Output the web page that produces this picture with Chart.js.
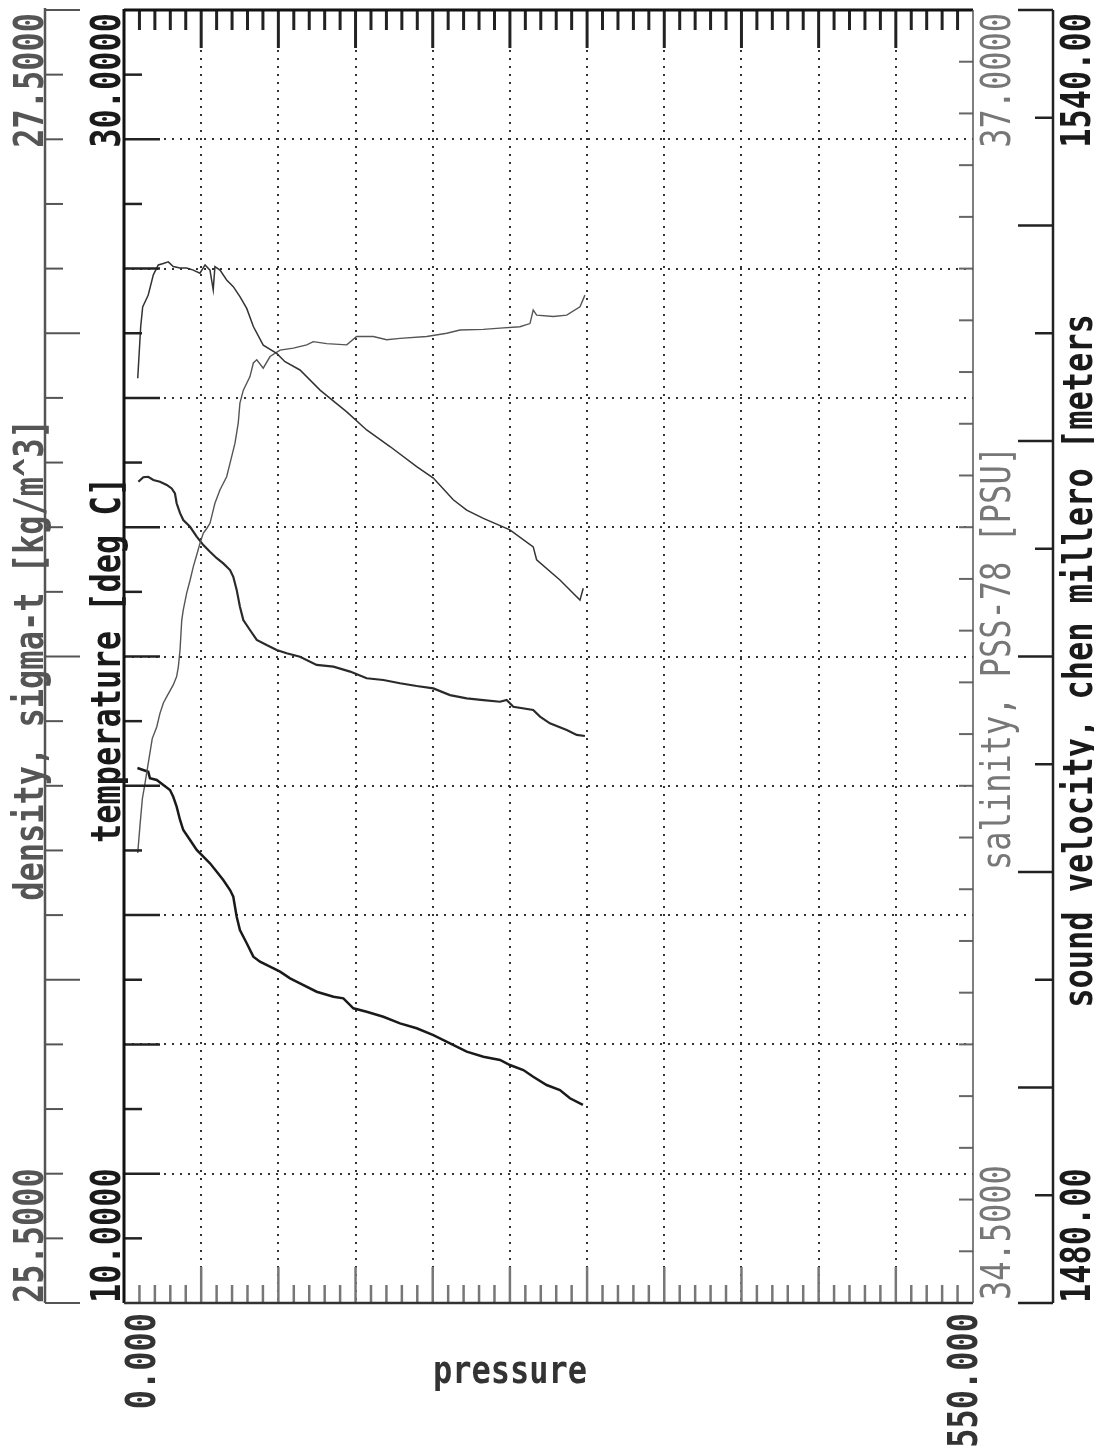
<!DOCTYPE html>
<html>
<head>
<meta charset="utf-8">
<script src="https://cdn.jsdelivr.net/npm/chart.js@4.4.1/dist/chart.umd.min.js"></script>
<style>
  html, body { margin: 0; padding: 0; background: #fff; }
  canvas { display: block; }
</style>
</head>
<body>
<canvas id="grafico" width="1094" height="1450"></canvas>
<script>
// perfil CTD - eixo de pressao na horizontal, 4 variaveis na vertical

// salinidade (PSS-78)
const salPress = [8.9, 10.8, 12.1, 15.7, 19.0, 22.2, 25.5, 28.7, 31.9, 36.3, 40.6, 44.9, 49.2, 52.5, 55.7, 57.8, 58.9, 62.2, 66.5, 70.8, 75.1, 79.5, 83.8, 90.2, 98.9, 104.3, 114.0, 127.0, 144.3, 157.2, 172.3, 189.6, 200.4, 213.3, 222.0, 232.8, 250.0, 265.1, 267.3, 282.4, 295.4, 297.5];
const salValues = [36.288, 36.387, 36.426, 36.449, 36.488, 36.507, 36.510, 36.513, 36.504, 36.501, 36.501, 36.497, 36.491, 36.507, 36.497, 36.459, 36.504, 36.497, 36.478, 36.465, 36.446, 36.423, 36.388, 36.352, 36.336, 36.320, 36.304, 36.265, 36.223, 36.188, 36.156, 36.117, 36.095, 36.053, 36.033, 36.017, 35.995, 35.962, 35.937, 35.898, 35.859, 35.882];

// densidade sigma-t
const densPress = [8.9, 10.4, 11.9, 13.2, 18.3, 21.2, 23.3, 25.5, 27.7, 31.9, 34.1, 35.2, 36.3, 37.4, 38.4, 40.6, 42.8, 44.9, 47.1, 49.2, 51.4, 53.6, 55.7, 58.9, 62.2, 66.5, 68.7, 71.9, 74.0, 75.1, 77.3, 81.6, 83.8, 86.0, 90.2, 94.6, 101.1, 109.7, 118.4, 122.6, 131.3, 144.3, 150.7, 161.5, 170.2, 178.8, 196.1, 209.1, 217.7, 232.8, 243.6, 256.5, 263.0, 265.1, 267.3, 278.1, 286.8, 295.4, 298.6];
const densValues = [26.196, 26.240, 26.280, 26.298, 26.373, 26.391, 26.412, 26.428, 26.438, 26.456, 26.469, 26.484, 26.510, 26.556, 26.572, 26.598, 26.618, 26.639, 26.657, 26.675, 26.691, 26.698, 26.706, 26.737, 26.758, 26.778, 26.799, 26.830, 26.861, 26.892, 26.912, 26.933, 26.954, 26.959, 26.946, 26.964, 26.974, 26.977, 26.982, 26.987, 26.984, 26.982, 26.995, 26.995, 26.990, 26.992, 26.995, 27.000, 27.005, 27.006, 27.008, 27.010, 27.015, 27.036, 27.028, 27.026, 27.028, 27.041, 27.059];

// temperatura (deg C)
const tempPress = [8.7, 15.7, 16.8, 21.2, 25.5, 29.8, 31.9, 34.1, 36.3, 38.4, 42.8, 47.1, 51.4, 55.7, 60.1, 64.3, 68.7, 70.8, 71.9, 73.0, 75.1, 79.5, 83.8, 88.1, 94.6, 101.1, 107.6, 114.0, 124.8, 135.7, 142.1, 148.6, 157.2, 168.0, 178.8, 189.6, 200.4, 211.2, 222.0, 232.8, 243.6, 250.0, 258.7, 265.1, 273.8, 282.4, 288.9, 297.3];
const tempValues = [18.275, 18.218, 18.116, 18.090, 18.012, 17.935, 17.831, 17.677, 17.471, 17.316, 17.162, 17.007, 16.903, 16.801, 16.671, 16.543, 16.388, 16.284, 16.130, 15.975, 15.770, 15.564, 15.357, 15.279, 15.202, 15.125, 15.022, 14.945, 14.815, 14.738, 14.713, 14.558, 14.506, 14.428, 14.326, 14.249, 14.145, 14.017, 13.887, 13.810, 13.759, 13.681, 13.604, 13.500, 13.372, 13.295, 13.166, 13.063];

// velocidade do som, chen millero (m/s)
const somPress = [9.3, 12.5, 15.7, 19.0, 23.3, 27.7, 30.9, 33.0, 34.1, 36.3, 38.4, 42.8, 47.1, 51.4, 55.7, 60.1, 64.3, 68.7, 70.8, 73.0, 75.1, 77.3, 81.6, 86.0, 92.4, 98.9, 105.4, 114.0, 124.8, 135.7, 146.5, 157.2, 168.0, 178.8, 189.6, 200.4, 211.2, 222.0, 232.8, 243.6, 247.9, 252.2, 265.1, 269.5, 275.9, 286.8, 293.3, 298.6];
const somValues = [1518.11, 1518.32, 1518.34, 1518.19, 1518.11, 1517.96, 1517.80, 1517.57, 1517.11, 1516.65, 1516.33, 1516.02, 1515.56, 1515.17, 1514.86, 1514.56, 1514.32, 1514.01, 1513.70, 1513.09, 1512.31, 1511.69, 1511.23, 1510.77, 1510.53, 1510.30, 1510.15, 1509.99, 1509.61, 1509.53, 1509.30, 1508.99, 1508.91, 1508.76, 1508.63, 1508.52, 1508.21, 1508.06, 1507.98, 1507.90, 1507.98, 1507.67, 1507.52, 1507.21, 1506.90, 1506.59, 1506.36, 1506.31];

// limites dos eixos e rotulos
const pressLimits = [0, 550];
const tempLimits = [10, 30];
const densLimits = [25.5, 27.5];
const salLimits = [34.5, 37];
const somLimits = [1480, 1540];
const pressLabels = ['0.000', '550.000'];
const tempLabels = ['10.0000', '30.0000'];
const densLabels = ['25.5000', '27.5000'];
const salLabels = ['34.5000', '37.0000'];
const somLabels = ['1480.00', '1540.00'];

function pontos(press, vals) {
  return press.map((p, i) => ({ x: p, y: vals[i] }));
}

const FONTE = '"DejaVu Sans Mono", monospace';

// texto girado 90 graus (lendo de baixo para cima)
function textoV(ctx, txt, x, y, align, peso, cor) {
  ctx.save();
  ctx.translate(x, y);
  ctx.rotate(-Math.PI / 2);
  ctx.scale(1, 1.25);
  ctx.font = peso + ' 32px ' + FONTE;
  ctx.fillStyle = cor;
  ctx.textAlign = align;
  ctx.textBaseline = 'alphabetic';
  ctx.fillText(txt, 0, 0);
  ctx.restore();
}

function linha(ctx, x1, y1, x2, y2, cor, w) {
  ctx.beginPath();
  ctx.strokeStyle = cor;
  ctx.lineWidth = w;
  ctx.moveTo(x1, y1);
  ctx.lineTo(x2, y2);
  ctx.stroke();
}

const eixos = {
  id: 'eixos',
  afterDraw(chart) {
    const ctx = chart.ctx;
    const a = chart.chartArea;
    const sx = chart.scales.x;
    const sT = chart.scales.yTemp;
    const sD = chart.scales.yDens;
    const sS = chart.scales.ySal;
    const sC = chart.scales.ySom;
    ctx.save();

    // marcas de pressao (cima e baixo), a cada 10 dbar
    for (let p = 10; p < pressLimits[1]; p += 10) {
      const x = sx.getPixelForValue(p);
      const grande = p % 50 === 0;
      linha(ctx, x, a.top, x, a.top + (grande ? 38 : 20), '#222', 3);
      linha(ctx, x, a.bottom, x, a.bottom - (grande ? 36 : 18), '#777', 2.5);
    }

    // temperatura - marcas no lado esquerdo da moldura
    for (let t = tempLimits[0] + 1; t < tempLimits[1]; t++) {
      const y = sT.getPixelForValue(t);
      linha(ctx, a.left, y, a.left + (t % 2 === 0 ? 36 : 18), y, '#222', 2.5);
    }

    // densidade - eixo separado a esquerda
    const xd = 45;
    linha(ctx, xd, a.top - 2, xd, a.bottom, '#555', 2.5);
    for (let i = 0; i <= 20; i++) {
      const v = densLimits[0] + i * 0.1;
      const y = sD.getPixelForValue(v);
      linha(ctx, xd, y, xd + (i % 5 === 0 ? 35 : 18), y, '#555', 2);
    }

    // salinidade - marcas no lado direito da moldura
    for (let i = 1; i < 25; i++) {
      const y = sS.getPixelForValue(salLimits[0] + i * 0.1);
      linha(ctx, a.right, y, a.right - 14, y, '#666', 2);
    }

    // velocidade do som - eixo separado a direita
    const xs = 1053;
    linha(ctx, xs, a.top, xs, a.bottom, '#222', 2.5);
    for (let c = somLimits[0]; c <= somLimits[1]; c += 5) {
      const y = sC.getPixelForValue(c);
      linha(ctx, xs, y, xs - (c % 10 === 0 ? 35 : 18), y, '#222', 2.5);
    }

    // moldura
    linha(ctx, a.left, a.top, a.right, a.top, '#111', 3);
    linha(ctx, a.left, a.top - 1, a.left, a.bottom, '#111', 3);
    linha(ctx, a.left, a.bottom, a.right, a.bottom, '#333', 2.5);
    linha(ctx, a.right, a.top, a.right, a.bottom, '#555', 1.5);

    // rotulos dos limites
    textoV(ctx, densLabels[1], 43, a.top + 3, 'right', 'bold', '#555');
    textoV(ctx, densLabels[0], 43, a.bottom, 'left', 'bold', '#555');
    textoV(ctx, tempLabels[1], 120, a.top + 3, 'right', 'bold', '#1a1a1a');
    textoV(ctx, tempLabels[0], 120, a.bottom, 'left', 'bold', '#1a1a1a');
    textoV(ctx, salLabels[1], 1010, a.top + 3, 'right', 'normal', '#777');
    textoV(ctx, salLabels[0], 1010, a.bottom - 3, 'left', 'normal', '#777');
    textoV(ctx, somLabels[1], 1090, a.top + 3, 'right', 'bold', '#1a1a1a');
    textoV(ctx, somLabels[0], 1090, a.bottom, 'left', 'bold', '#1a1a1a');
    textoV(ctx, pressLabels[0], sx.getPixelForValue(pressLimits[0]) + 31, a.bottom + 10, 'right', 'bold', '#333');
    textoV(ctx, pressLabels[1], sx.getPixelForValue(pressLimits[1]) + 4, a.bottom + 10, 'right', 'bold', '#333');

    // titulos dos eixos
    textoV(ctx, 'density, sigma-t [kg/m^3]', 43, 660, 'center', 'bold', '#555');
    textoV(ctx, 'temperature [deg C]', 120, 660, 'center', 'bold', '#1a1a1a');
    textoV(ctx, 'salinity, PSS-78 [PSU]', 1010, 658, 'center', 'normal', '#777');
    textoV(ctx, 'sound velocity, chen millero [meters', 1092, 661, 'center', 'bold', '#1a1a1a');

    ctx.save();
    ctx.translate(510, 1383);
    ctx.scale(1, 1.2);
    ctx.font = 'bold 32px ' + FONTE;
    ctx.fillStyle = '#333';
    ctx.textAlign = 'center';
    ctx.fillText('pressure', 0, 0);
    ctx.restore();

    ctx.restore();
  }
};

const gradeCor = (c) => (c.index === 0 || c.index === c.chart.scales[c.scale.id].ticks.length - 1) ? 'rgba(0,0,0,0)' : '#333';

const configPerfil = {
  type: 'line',
  data: {
    datasets: [
      { label: 'salinity', data: pontos(salPress, salValues), yAxisID: 'ySal', borderColor: '#333', borderWidth: 1.5 },
      { label: 'density', data: pontos(densPress, densValues), yAxisID: 'yDens', borderColor: '#555', borderWidth: 1.4 },
      { label: 'sound velocity', data: pontos(somPress, somValues), yAxisID: 'ySom', borderColor: '#2a2a2a', borderWidth: 2.2 },
      { label: 'temperature', data: pontos(tempPress, tempValues), yAxisID: 'yTemp', borderColor: '#1a1a1a', borderWidth: 2.5 }
    ]
  },
  options: {
    responsive: false,
    animation: false,
    devicePixelRatio: 1,
    layout: { padding: { left: 124, top: 10, right: 121, bottom: 147 } },
    elements: { point: { radius: 0 }, line: { tension: 0, fill: false } },
    plugins: { legend: { display: false }, tooltip: { enabled: false } },
    scales: {
      x: {
        type: 'linear', min: pressLimits[0], max: pressLimits[1],
        ticks: { display: false, stepSize: 50 },
        grid: { drawTicks: false, color: gradeCor, lineWidth: 2 },
        border: { display: false, dash: [2, 6] }
      },
      yTemp: {
        type: 'linear', position: 'left', min: tempLimits[0], max: tempLimits[1],
        ticks: { display: false, stepSize: 2 },
        grid: { drawTicks: false, color: gradeCor, lineWidth: 2 },
        border: { display: false, dash: [2, 6] }
      },
      yDens: { type: 'linear', display: false, min: densLimits[0], max: densLimits[1] },
      ySal: { type: 'linear', display: false, min: salLimits[0], max: salLimits[1] },
      ySom: { type: 'linear', display: false, min: somLimits[0], max: somLimits[1] }
    }
  },
  plugins: [eixos]
};

const perfil = new Chart(document.getElementById('grafico'), configPerfil);
</script>
</body>
</html>
